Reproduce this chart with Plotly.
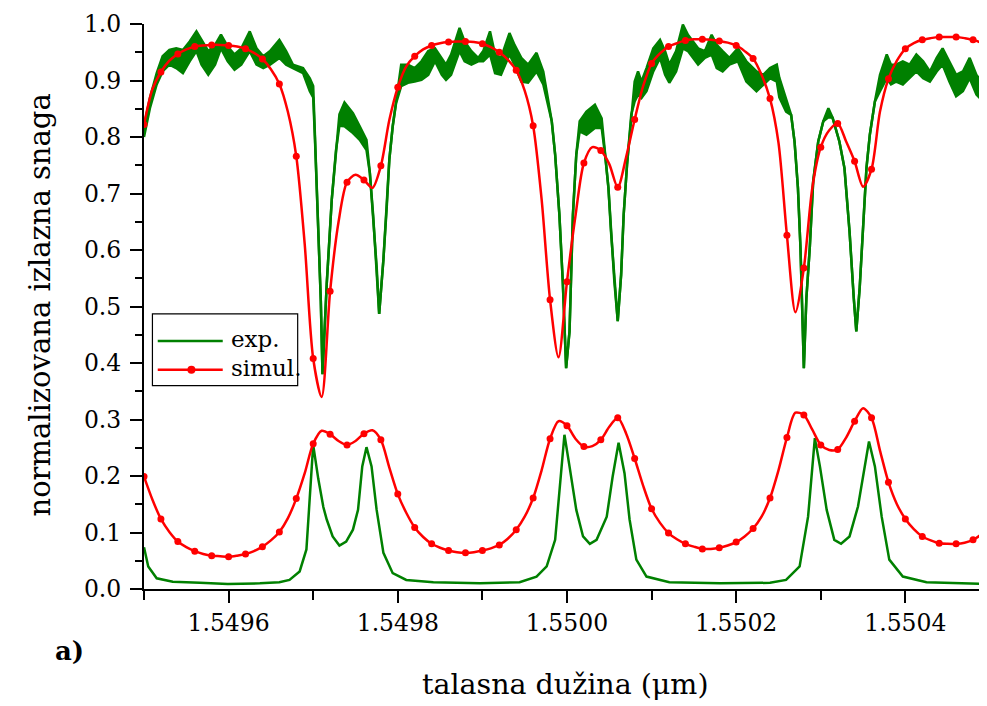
import numpy as np
import plotly.graph_objects as go

# simulacija: talasna duzina na koraku 1e-5 um, 101 tacka
sim_wl = np.round(1.5495 + np.arange(101) * 1e-5, 6)

sim_T = [
    0.822, 0.885, 0.915, 0.935, 0.947, 0.955, 0.960, 0.962, 0.963, 0.963,
    0.962, 0.960, 0.956, 0.949, 0.938, 0.920, 0.894, 0.845, 0.766, 0.610,
    0.408, 0.340, 0.527, 0.650, 0.720, 0.733, 0.724, 0.710, 0.749, 0.830,
    0.888, 0.925, 0.943, 0.955, 0.962, 0.966, 0.968, 0.969, 0.969, 0.968,
    0.965, 0.959, 0.950, 0.937, 0.918, 0.882, 0.820, 0.690, 0.512, 0.410,
    0.544, 0.660, 0.754, 0.782, 0.776, 0.752, 0.711, 0.765, 0.831, 0.890,
    0.930, 0.948, 0.960, 0.966, 0.971, 0.973, 0.973, 0.972, 0.970, 0.967,
    0.962, 0.952, 0.939, 0.910, 0.868, 0.790, 0.626, 0.490, 0.568, 0.710,
    0.782, 0.812, 0.824, 0.792, 0.757, 0.712, 0.743, 0.845, 0.903, 0.935,
    0.956, 0.966, 0.972, 0.975, 0.977, 0.977, 0.977, 0.975, 0.972, 0.966,
    0.955,
]

sim_R = [
    0.199, 0.158, 0.124, 0.101, 0.084, 0.074, 0.067, 0.062, 0.059, 0.058,
    0.057, 0.059, 0.062, 0.067, 0.075, 0.086, 0.101, 0.125, 0.160, 0.205,
    0.257, 0.280, 0.274, 0.262, 0.255, 0.262, 0.275, 0.281, 0.264, 0.215,
    0.168, 0.135, 0.109, 0.092, 0.080, 0.073, 0.068, 0.065, 0.064, 0.065,
    0.068, 0.072, 0.078, 0.089, 0.105, 0.128, 0.161, 0.210, 0.266, 0.297,
    0.289, 0.266, 0.252, 0.253, 0.264, 0.287, 0.303, 0.275, 0.231, 0.183,
    0.142, 0.117, 0.099, 0.088, 0.080, 0.075, 0.071, 0.071, 0.073, 0.077,
    0.083, 0.093, 0.107, 0.128, 0.161, 0.210, 0.268, 0.312, 0.308, 0.282,
    0.255, 0.246, 0.247, 0.268, 0.297, 0.320, 0.303, 0.245, 0.189, 0.150,
    0.124, 0.106, 0.093, 0.086, 0.081, 0.080, 0.080, 0.082, 0.087, 0.097,
    0.112,
]

# eksperiment, izlaz 1 (sum -> gornja i donja anvelopa)
exp_wl_T = [
    1.549500, 1.549507, 1.549515, 1.549522, 1.549530, 1.549538, 1.549546, 1.549554, 1.549562, 1.549568,
    1.549576, 1.549584, 1.549591, 1.549599, 1.549607, 1.549615, 1.549625, 1.549633, 1.549641, 1.549649,
    1.549660, 1.549668, 1.549676, 1.549688, 1.549696, 1.549700, 1.549702, 1.549706, 1.549709, 1.549711,
    1.549716, 1.549722, 1.549727, 1.549731, 1.549737, 1.549747, 1.549755, 1.549763, 1.549767, 1.549771,
    1.549775, 1.549778, 1.549783, 1.549787, 1.549790, 1.549794, 1.549798, 1.549804, 1.549812, 1.549820,
    1.549828, 1.549836, 1.549844, 1.549852, 1.549857, 1.549863, 1.549873, 1.549879, 1.549887, 1.549895,
    1.549901, 1.549909, 1.549915, 1.549922, 1.549932, 1.549938, 1.549946, 1.549954, 1.549964, 1.549972,
    1.549976, 1.549982, 1.549986, 1.549991, 1.549995, 1.549999, 1.550003, 1.550007, 1.550011, 1.550015,
    1.550023, 1.550033, 1.550041, 1.550045, 1.550049, 1.550052, 1.550056, 1.550060, 1.550064, 1.550067,
    1.550071, 1.550076, 1.550080, 1.550084, 1.550088, 1.550094, 1.550102, 1.550110, 1.550116, 1.550121,
    1.550129, 1.550137, 1.550143, 1.550155, 1.550163, 1.550171, 1.550177, 1.550184, 1.550192, 1.550202,
    1.550212, 1.550224, 1.550232, 1.550240, 1.550248, 1.550251, 1.550259, 1.550265, 1.550269, 1.550273,
    1.550276, 1.550278, 1.550280, 1.550283, 1.550287, 1.550291, 1.550297, 1.550303, 1.550309, 1.550314,
    1.550322, 1.550328, 1.550334, 1.550339, 1.550342, 1.550346, 1.550350, 1.550354, 1.550358, 1.550364,
    1.550370, 1.550378, 1.550383, 1.550389, 1.550397, 1.550405, 1.550413, 1.550421, 1.550429, 1.550437,
    1.550444, 1.550452, 1.550460, 1.550468, 1.550476, 1.550484, 1.550492, 1.550500,
]
exp_T_hi = [
    0.820, 0.869, 0.913, 0.943, 0.954, 0.957, 0.954, 0.969, 0.987, 0.972,
    0.952, 0.963, 0.981, 0.960, 0.946, 0.957, 0.987, 0.957, 0.943, 0.952,
    0.972, 0.952, 0.928, 0.922, 0.904, 0.890, 0.810, 0.630, 0.510, 0.380,
    0.540, 0.690, 0.777, 0.840, 0.861, 0.842, 0.819, 0.795, 0.736, 0.659,
    0.571, 0.487, 0.583, 0.677, 0.760, 0.819, 0.866, 0.928, 0.928, 0.922,
    0.934, 0.952, 0.957, 0.940, 0.928, 0.946, 0.993, 0.969, 0.952, 0.940,
    0.952, 0.987, 0.946, 0.940, 0.984, 0.963, 0.940, 0.928, 0.949, 0.916,
    0.881, 0.828, 0.769, 0.663, 0.545, 0.391, 0.456, 0.662, 0.769, 0.828,
    0.845, 0.857, 0.833, 0.769, 0.710, 0.633, 0.544, 0.474, 0.556, 0.662,
    0.751, 0.840, 0.898, 0.916, 0.898, 0.922, 0.957, 0.972, 0.952, 0.928,
    0.952, 0.999, 0.981, 0.957, 0.952, 0.981, 0.963, 0.952, 0.940, 0.957,
    0.934, 0.916, 0.910, 0.922, 0.928, 0.905, 0.869, 0.839, 0.792, 0.710,
    0.604, 0.486, 0.391, 0.515, 0.604, 0.721, 0.792, 0.828, 0.851, 0.834,
    0.792, 0.745, 0.633, 0.515, 0.456, 0.533, 0.651, 0.745, 0.804, 0.863,
    0.910, 0.946, 0.928, 0.928, 0.934, 0.928, 0.946, 0.934, 0.916, 0.940,
    0.957, 0.934, 0.910, 0.916, 0.940, 0.910, 0.893, 0.895,
]
exp_T_lo = [
    0.800, 0.851, 0.893, 0.916, 0.928, 0.922, 0.913, 0.934, 0.952, 0.928,
    0.910, 0.928, 0.957, 0.934, 0.919, 0.928, 0.952, 0.928, 0.922, 0.928,
    0.940, 0.928, 0.922, 0.913, 0.881, 0.870, 0.800, 0.630, 0.510, 0.380,
    0.540, 0.690, 0.777, 0.820, 0.819, 0.807, 0.795, 0.777, 0.736, 0.659,
    0.571, 0.487, 0.583, 0.677, 0.760, 0.819, 0.860, 0.890, 0.896, 0.898,
    0.901, 0.910, 0.934, 0.910, 0.901, 0.910, 0.952, 0.934, 0.928, 0.934,
    0.934, 0.946, 0.913, 0.910, 0.946, 0.928, 0.898, 0.896, 0.916, 0.893,
    0.869, 0.828, 0.769, 0.663, 0.545, 0.391, 0.456, 0.662, 0.769, 0.810,
    0.804, 0.816, 0.816, 0.769, 0.710, 0.633, 0.544, 0.474, 0.556, 0.662,
    0.751, 0.840, 0.863, 0.875, 0.869, 0.881, 0.916, 0.940, 0.910, 0.896,
    0.916, 0.957, 0.952, 0.928, 0.940, 0.946, 0.922, 0.916, 0.928, 0.934,
    0.898, 0.881, 0.893, 0.904, 0.898, 0.870, 0.845, 0.839, 0.792, 0.710,
    0.604, 0.486, 0.391, 0.515, 0.604, 0.721, 0.792, 0.828, 0.835, 0.834,
    0.792, 0.745, 0.633, 0.515, 0.456, 0.533, 0.651, 0.745, 0.804, 0.863,
    0.881, 0.904, 0.893, 0.898, 0.893, 0.904, 0.916, 0.904, 0.898, 0.916,
    0.928, 0.898, 0.872, 0.881, 0.904, 0.875, 0.863, 0.866,
]

# eksperiment, izlaz 2
exp_wl_R = [
    1.549500, 1.549505, 1.549515, 1.549534, 1.549566, 1.549599, 1.549637, 1.549660, 1.549672, 1.549684,
    1.549692, 1.549696, 1.549700, 1.549706, 1.549712, 1.549716, 1.549723, 1.549731, 1.549739, 1.549747,
    1.549753, 1.549758, 1.549763, 1.549769, 1.549775, 1.549783, 1.549794, 1.549810, 1.549842, 1.549897,
    1.549944, 1.549964, 1.549976, 1.549986, 1.549991, 1.549997, 1.550003, 1.550011, 1.550019, 1.550027,
    1.550035, 1.550047, 1.550054, 1.550061, 1.550068, 1.550074, 1.550082, 1.550094, 1.550121, 1.550181,
    1.550240, 1.550259, 1.550275, 1.550285, 1.550293, 1.550299, 1.550307, 1.550316, 1.550324, 1.550334,
    1.550344, 1.550352, 1.550357, 1.550364, 1.550372, 1.550381, 1.550397, 1.550425, 1.550500,
]
exp_R = [
    0.074, 0.040, 0.019, 0.013, 0.011, 0.009, 0.010, 0.012, 0.016, 0.031,
    0.070, 0.158, 0.255, 0.195, 0.145, 0.123, 0.093, 0.077, 0.084, 0.105,
    0.140, 0.217, 0.251, 0.217, 0.140, 0.064, 0.028, 0.016, 0.012, 0.010,
    0.012, 0.022, 0.040, 0.087, 0.179, 0.273, 0.217, 0.140, 0.093, 0.080,
    0.087, 0.128, 0.199, 0.259, 0.205, 0.123, 0.052, 0.022, 0.012, 0.010,
    0.011, 0.016, 0.040, 0.128, 0.267, 0.217, 0.140, 0.087, 0.080, 0.093,
    0.146, 0.217, 0.261, 0.217, 0.128, 0.052, 0.022, 0.012, 0.009,
]

assert len(exp_wl_T) == len(exp_T_hi) == len(exp_T_lo)
assert len(exp_wl_R) == len(exp_R)

ZELENA = "#008000"
CRVENA = "#ff0000"
FONT = "DejaVu Serif"

fig = go.Figure()

fig.add_trace(go.Scatter(x=exp_wl_T, y=exp_T_lo, mode="lines",
                         line=dict(color=ZELENA, width=2.5), showlegend=False))
fig.add_trace(go.Scatter(x=exp_wl_T, y=exp_T_hi, mode="lines",
                         line=dict(color=ZELENA, width=2.5), fill="tonexty",
                         fillcolor=ZELENA, showlegend=False))
fig.add_trace(go.Scatter(x=exp_wl_R, y=exp_R, mode="lines",
                         line=dict(color=ZELENA, width=2.5), showlegend=False))

for sim in (sim_T, sim_R):
    fig.add_trace(go.Scatter(x=sim_wl, y=sim, mode="lines",
                             line=dict(color=CRVENA, width=2.5, shape="spline", smoothing=0.8),
                             showlegend=False))
    fig.add_trace(go.Scatter(x=sim_wl[::2], y=sim[::2], mode="markers",
                             marker=dict(color=CRVENA, size=7), showlegend=False))

# ----- legenda rucno (duze linije kao u originalu); paper x = (px - 144) / 843
fig.add_shape(type="rect", xref="paper", yref="paper", x0=0.0100, x1=0.1823, y0=0.360, y1=0.487,
              line=dict(color="black", width=1.2), fillcolor="white", layer="above")
fig.add_shape(type="line", xref="paper", yref="paper", x0=0.0163, x1=0.0934, y0=0.439, y1=0.439,
              line=dict(color=ZELENA, width=2.5), layer="above")
fig.add_shape(type="line", xref="paper", yref="paper", x0=0.0163, x1=0.0934, y0=0.388, y1=0.388,
              line=dict(color=CRVENA, width=2.5), layer="above")
fig.add_shape(type="circle", xref="paper", yref="paper", x0=0.0515, x1=0.0610, y0=0.3809, y1=0.3951,
              line=dict(color=CRVENA, width=0), fillcolor=CRVENA, layer="above")
fig.add_annotation(text="exp.", xref="paper", yref="paper", x=0.1005, y=0.442, xanchor="left",
                   yanchor="middle", showarrow=False, font=dict(family=FONT, size=23, color="black"))
fig.add_annotation(text="simul.", xref="paper", yref="paper", x=0.1005, y=0.391, xanchor="left",
                   yanchor="middle", showarrow=False, font=dict(family=FONT, size=23, color="black"))

# naslovi osa i oznaka panela
fig.add_annotation(text="talasna du\u017eina (\u03bcm)", xref="paper", yref="paper", x=0.5005, y=-0.169,
                   xanchor="center", yanchor="middle", showarrow=False,
                   font=dict(family=FONT, size=28.5, color="black"))
fig.add_annotation(text="normalizovana izlazna snaga", xref="paper", yref="paper", x=-0.1237, y=0.503,
                   xanchor="center", yanchor="middle", textangle=-90, showarrow=False,
                   font=dict(family=FONT, size=29, color="black"))
fig.add_annotation(text="<b>a)</b>", xref="paper", yref="paper", x=-0.108, y=-0.110,
                   xanchor="left", yanchor="middle", showarrow=False,
                   font=dict(family=FONT, size=26, color="black"))

# stranica ima 8 px margine tela, pa je figura pomerena za -8 px
fig.update_layout(
    width=979,
    height=706,
    margin=dict(l=136, r=0, t=16, b=125),
    plot_bgcolor="white",
    paper_bgcolor="white",
    font=dict(family=FONT, size=23, color="black"),
    xaxis=dict(
        range=[1.5495, 1.5504965],
        tick0=1.5496,
        dtick=0.0002,
        tickformat=".4f",
        ticks="outside",
        ticklen=12,
        tickwidth=2,
        tickcolor="black",
        showline=True,
        linewidth=2,
        linecolor="black",
        showgrid=False,
        zeroline=False,
        automargin=False,
        tickfont=dict(family=FONT, size=23.5, color="black"),
        minor=dict(tick0=1.5495, dtick=0.0001, ticks="outside", ticklen=9, tickwidth=2,
                   tickcolor="black", showgrid=False),
    ),
    yaxis=dict(
        range=[0, 1.0],
        dtick=0.1,
        tickformat=".1f",
        ticks="outside",
        ticklen=12,
        tickwidth=2,
        tickcolor="black",
        showline=True,
        linewidth=2,
        linecolor="black",
        showgrid=False,
        zeroline=False,
        automargin=False,
        ticklabelstandoff=4,
        tickfont=dict(family=FONT, size=23.5, color="black"),
        minor=dict(dtick=0.05, ticks="outside", ticklen=7, tickwidth=2,
                   tickcolor="black", showgrid=False),
    ),
)

fig.write_html("out.html")
